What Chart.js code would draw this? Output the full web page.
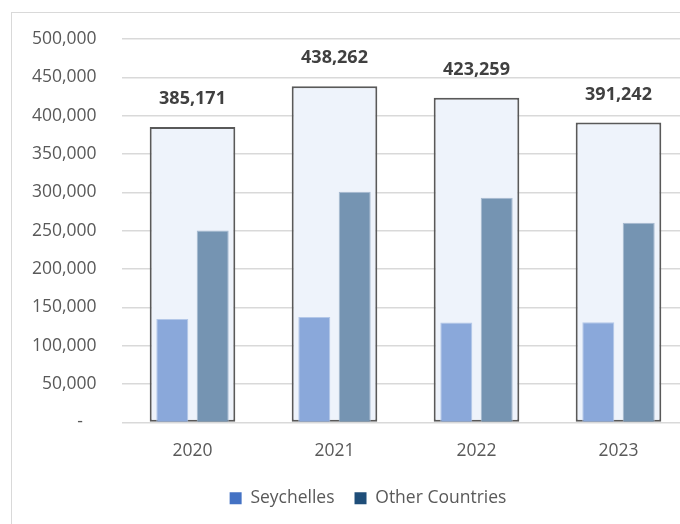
<!DOCTYPE html>
<html>
<head>
<meta charset="utf-8">
<script src="https://cdn.jsdelivr.net/npm/chart.js@4/dist/chart.umd.min.js"></script>
<style>
  html, body { margin: 0; padding: 0; background: #fff; overflow: hidden; }
  #frame {
    position: absolute; left: 11px; top: 12px;
    width: 712px; height: 540px;
    border: 1px solid #d9d9d9; background: #fff;
  }
  #wrap { position: relative; width: 712px; height: 520px; }
</style>
</head>
<body>
<div id="frame">
  <div id="wrap"><canvas id="myChart"></canvas></div>
</div>
<script>
const years = ["2020", "2021", "2022", "2023"];
const totals = [385171, 438262, 423259, 391242];
const seychelles = [134800, 137400, 130300, 130800];
const otherCountries = [250371, 300862, 292959, 260442];
const yTicks = [0, 50000, 100000, 150000, 200000, 250000, 300000, 350000, 400000, 450000, 500000];

const fontFamily = "'Open Sans', 'Noto Sans', sans-serif";
const fmt = (v) => v.toLocaleString("en-US");

// total values above the outlined bars
const totalLabels = {
  id: "totalLabels",
  afterDatasetsDraw(chart) {
    const meta = chart.getDatasetMeta(2);
    const ctx = chart.ctx;
    ctx.save();
    ctx.font = "bold 18px " + fontFamily;
    ctx.fillStyle = "#404040";
    ctx.textAlign = "center";
    ctx.textBaseline = "middle";
    meta.data.forEach((bar, i) => {
      ctx.fillText(fmt(totals[i]), bar.x, bar.y - 28);
    });
    ctx.restore();
  },
};

const ctx = document.getElementById("myChart").getContext("2d");
new Chart(ctx, {
  type: "bar",
  data: {
    labels: years,
    datasets: [
      {
        label: "Seychelles",
        data: seychelles,
        backgroundColor: "#8AA8DA",
        borderColor: "#B3C7E8",
        borderWidth: 1,
        borderSkipped: "bottom",
        categoryPercentage: 0.569,
        barPercentage: 0.792,
        order: 1,
      },
      {
        label: "Other Countries",
        data: otherCountries,
        backgroundColor: "#7594B2",
        borderColor: "#A6B9CF",
        borderWidth: 1,
        borderSkipped: "bottom",
        categoryPercentage: 0.569,
        barPercentage: 0.792,
        order: 1,
      },
      {
        label: "Total",
        data: totals,
        backgroundColor: "#EEF3FB",
        borderColor: "#595959",
        borderWidth: 2,
        borderSkipped: false,
        grouped: false,
        categoryPercentage: 1,
        barPercentage: 0.603,
        order: 2,
      },
    ],
  },
  options: {
    responsive: true,
    maintainAspectRatio: false,
    animation: false,
    layout: { padding: { top: 26, right: 0, bottom: 16, left: 0 } },
    scales: {
      x: {
        offset: true,
        grid: { display: false, drawTicks: false },
        border: { display: false },
        ticks: { color: "#595959", font: { family: fontFamily, size: 17.5 }, padding: 18 },
        afterFit: (scale) => { scale.height = 47; },
      },
      y: {
        min: 0,
        max: 500000,
        afterBuildTicks: (scale) => { scale.ticks = yTicks.map((v) => ({ value: v })); },
        grid: { color: "#d9d9d9", lineWidth: 1.5, drawTicks: false },
        border: { display: false },
        ticks: {
          color: "#595959",
          font: { family: fontFamily, size: 17.5 },
          padding: 25,
          callback: (v) => (v === 0 ? "-   " : fmt(v)),
        },
        afterFit: (scale) => {
          scale.width = 109.5;
          scale.paddingTop = 10;
          scale.paddingBottom = 10;
        },
      },
      // empty spacer on the right so the legend stays centred on the whole frame
      spacer: {
        type: "linear",
        position: "right",
        grid: { display: false, drawTicks: false },
        border: { display: false },
        ticks: { display: false },
        afterFit: (scale) => {
          scale.width = 34.5;
          scale.paddingTop = 0;
          scale.paddingBottom = 0;
        },
      },
    },
    plugins: {
      tooltip: { enabled: false },
      legend: {
        position: "bottom",
        labels: {
          color: "#595959",
          font: { family: fontFamily, size: 17.5 },
          boxWidth: 12,
          boxHeight: 12,
          padding: 20,
          generateLabels: () => [
            { text: "Seychelles", fillStyle: "#4472C4", strokeStyle: "#4472C4", lineWidth: 0, fontColor: "#595959", datasetIndex: 0 },
            { text: "Other Countries", fillStyle: "#1F4E79", strokeStyle: "#1F4E79", lineWidth: 0, fontColor: "#595959", datasetIndex: 1 },
          ],
        },
      },
    },
  },
  plugins: [totalLabels],
});
</script>
</body>
</html>
